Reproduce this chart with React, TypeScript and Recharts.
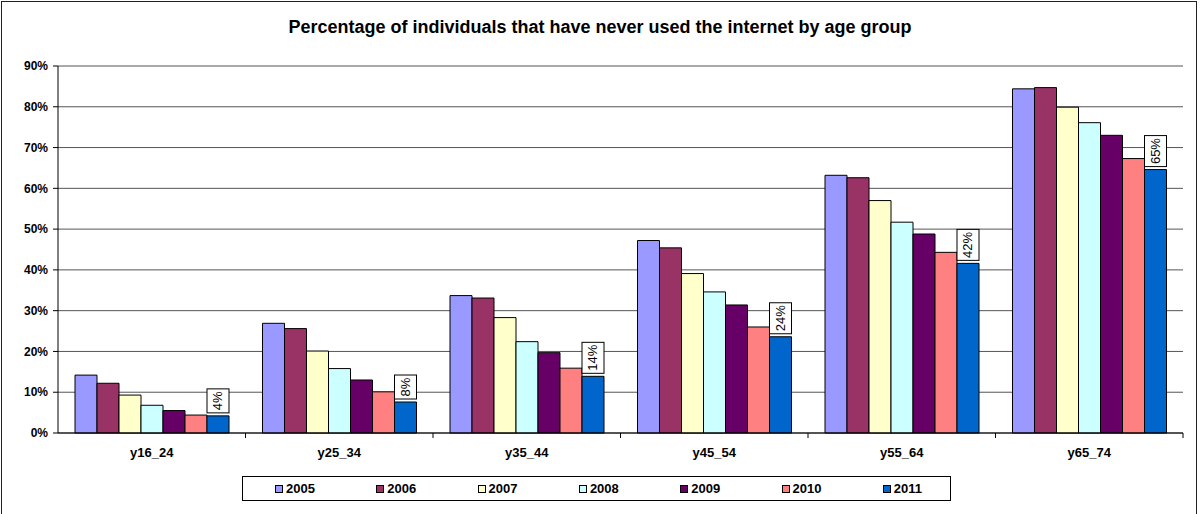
import { BarChart, Bar, XAxis, YAxis, CartesianGrid, LabelList } from "recharts";

const categories = ["y16_24", "y25_34", "y35_44", "y45_54", "y55_64", "y65_74"];
const years = ["2005", "2006", "2007", "2008", "2009", "2010", "2011"];
const colors = ["#9999FF", "#993366", "#FFFFCC", "#CCFFFF", "#660066", "#FF8080", "#0066CC"];

const v2005 = [14.2, 26.9, 33.7, 47.2, 63.2, 84.4];
const v2006 = [12.2, 25.6, 33.1, 45.4, 62.6, 84.7];
const v2007 = [9.3, 20.1, 28.3, 39.1, 57.0, 79.9];
const v2008 = [6.8, 15.8, 22.4, 34.6, 51.7, 76.1];
const v2009 = [5.5, 13.0, 19.7, 31.4, 48.8, 73.0];
const v2010 = [4.4, 10.1, 15.9, 26.0, 44.3, 67.3];
const v2011 = [4.2, 7.6, 13.9, 23.6, 41.6, 64.6];
const yTicks = [0, 10, 20, 30, 40, 50, 60, 70, 80, 90];

const series = [v2005, v2006, v2007, v2008, v2009, v2010, v2011];
const data = categories.map((c, i) => {
  const row: Record<string, string | number> = { name: c };
  years.forEach((y, j) => {
    row["y" + y] = series[j][i];
  });
  return row;
});

const FONT = "'Liberation Sans', Arial, sans-serif";

function CategoryTick(props: any) {
  const { x, y, payload } = props;
  const band = 187.5;
  return (
    <g>
      <line x1={x + band / 2} y1={y} x2={x + band / 2} y2={y + 5} stroke="#000" />
      <text x={x} y={y + 24} textAnchor="middle" fontFamily={FONT} fontSize={13} fontWeight="bold" fill="#000">
        {payload.value}
      </text>
    </g>
  );
}

function BoxLabel(props: any) {
  const { x, y, width, value } = props;
  const txt = `${Math.round(value)}%`;
  const h = 10 + txt.length * 7;
  const by = y - 3 - h;
  const cx = x + width / 2;
  const cy = by + h / 2;
  return (
    <g>
      <rect x={x} y={by} width={width} height={h} fill="#fff" stroke="#000" strokeWidth={1} />
      <text
        x={cx}
        y={cy}
        textAnchor="middle"
        dominantBaseline="central"
        transform={`rotate(-90, ${cx}, ${cy})`}
        fontFamily={FONT}
        fontSize={13}
        fill="#000"
      >
        {txt}
      </text>
    </g>
  );
}

export default function App() {
  return (
    <div style={{ position: "absolute", left: 0, top: 0, width: 1200, height: 514, background: "#fff", fontFamily: FONT }}>
      <div
        style={{
          position: "absolute",
          left: 1,
          top: 1,
          width: 1196,
          height: 520,
          border: "1px solid #222",
          boxSizing: "border-box",
        }}
      />
      <div
        style={{
          position: "absolute",
          left: 0,
          top: 17,
          width: 1200,
          textAlign: "center",
          fontSize: 18,
          fontWeight: "bold",
          color: "#000",
        }}
      >
        Percentage of individuals that have never used the internet by age group
      </div>
      <div style={{ position: "absolute", left: 0, top: 0 }}>
        <BarChart
          width={1200}
          height={514}
          data={data}
          margin={{ top: 66, right: 17, bottom: 51, left: 0 }}
          barCategoryGap={17}
          barGap={0}
        >
          <CartesianGrid yAxisId="l" vertical={false} stroke="#555" strokeWidth={1} />
          <XAxis
            dataKey="name"
            height={30}
            tickLine={false}
            tickSize={0}
            tickMargin={0}
            axisLine={{ stroke: "#000" }}
            tick={<CategoryTick />}
            interval={0}
          />
          <YAxis
            yAxisId="l"
            width={58}
            domain={[0, 90]}
            ticks={yTicks}
            tickFormatter={(v) => `${v}%`}
            tickSize={5}
            tickMargin={5}
            axisLine={{ stroke: "#000" }}
            tickLine={{ stroke: "#000" }}
            tick={{ fontFamily: FONT, fontSize: 12, fontWeight: "bold", fill: "#000" }}
          />
          <YAxis yAxisId="r" orientation="right" width={0} domain={[0, 90]} tick={false} tickLine={false} axisLine={{ stroke: "#888" }} />
          {years.map((y, j) => (
            <Bar
              key={y}
              yAxisId="l"
              dataKey={"y" + y}
              fill={colors[j]}
              stroke="#000"
              strokeWidth={1}
              isAnimationActive={false}
            >
              {j === years.length - 1 ? <LabelList dataKey={"y" + y} content={<BoxLabel />} /> : null}
            </Bar>
          ))}
        </BarChart>
      </div>
      <div
        style={{
          position: "absolute",
          left: 242,
          top: 476,
          width: 709,
          height: 25,
          border: "1px solid #000",
          boxSizing: "border-box",
        }}
      >
        {years.map((y, j) => (
          <div
            key={y}
            style={{
              position: "absolute",
              left: 32 + j * 101.3,
              top: 4,
              display: "flex",
              alignItems: "center",
              fontSize: 13,
              fontWeight: "bold",
              color: "#000",
              lineHeight: "15px",
            }}
          >
            <span
              style={{
                display: "inline-block",
                width: 6,
                height: 6,
                background: colors[j],
                border: "1px solid #000",
                marginRight: 3,
              }}
            />
            {y}
          </div>
        ))}
      </div>
    </div>
  );
}
